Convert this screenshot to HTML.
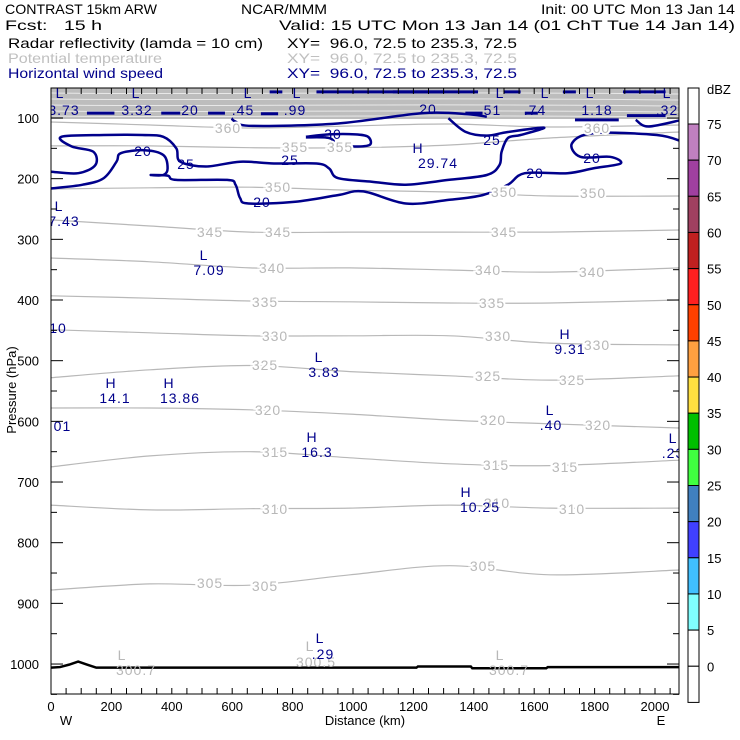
<!DOCTYPE html>
<html><head><meta charset="utf-8"><style>
body{margin:0;background:#fff}
svg{display:block;font-family:"Liberation Sans",sans-serif}
text{white-space:pre}
</style></head><body>
<svg id="c" width="740" height="740" viewBox="0 0 740 740">
<g font-size="14">
<text x="5" y="14" textLength="152" lengthAdjust="spacingAndGlyphs">CONTRAST 15km ARW</text>
<text x="241" y="14" textLength="86" lengthAdjust="spacingAndGlyphs">NCAR/MMM</text>
<text x="541" y="14" textLength="194" lengthAdjust="spacingAndGlyphs">Init: 00 UTC Mon 13 Jan 14</text>
<text x="5" y="30" textLength="97" lengthAdjust="spacingAndGlyphs">Fcst:   15 h</text>
<text x="279" y="30" textLength="456" lengthAdjust="spacingAndGlyphs">Valid: 15 UTC Mon 13 Jan 14 (01 ChT Tue 14 Jan 14)</text>
<text x="8" y="48" textLength="255" lengthAdjust="spacingAndGlyphs">Radar reflectivity (lamda = 10 cm)</text>
<text x="287" y="48" textLength="230" lengthAdjust="spacingAndGlyphs">XY=  96.0, 72.5 to 235.3, 72.5</text>
<text x="8" y="63" fill="#c0c0c0" textLength="154" lengthAdjust="spacingAndGlyphs">Potential temperature</text>
<text x="287" y="63" fill="#c0c0c0" textLength="230" lengthAdjust="spacingAndGlyphs">XY=  96.0, 72.5 to 235.3, 72.5</text>
<text x="8" y="78" fill="#00008b" textLength="155" lengthAdjust="spacingAndGlyphs">Horizontal wind speed</text>
<text x="287" y="78" fill="#00008b" textLength="230" lengthAdjust="spacingAndGlyphs">XY=  96.0, 72.5 to 235.3, 72.5</text>
</g>
<defs><clipPath id="pc"><rect x="51" y="88" width="628" height="606"/></clipPath></defs>
<g id="plot" clip-path="url(#pc)"></g>
<g id="axes"></g>
<g id="cbar"></g>
</svg>
<script>
const NS='http://www.w3.org/2000/svg';
// ---- data ----
const xTicks=[0,200,400,600,800,1000,1200,1400,1600,1800,2000];
const yTicks=[100,200,300,400,500,600,700,800,900,1000];
const thetaLevels=[360,355,350,345,340,335,330,325,320,315,310,305];
const thetaKm=[0,328,659,990,1321,1652,2080];
const th360=[106.6,111.5,116.5,113.2,109.9,114.8,111.5];
const th355=[146,146,149,149,144.5,133,123];
const th350=[217,215,214,219,222,228.5,228.5];
const th345=[268,278,288,288,288,288,284.6];
const th340=[330.7,337,347,347,350.5,354,347];
const th335=[393,397,401.6,403,405,405,400];
const th330=[449,454,459,459,459,471,474];
const th325=[528,515,508,518,525,532,525];
const th320=[578,578,581,588,598,604,611];
const th315=[675,657,650,660,670,673,664];
const th310=[738,746,744,743,738,743,743];
const th305=[878,868,870,853,838,853,845];
const thetaP=[th360,th355,th350,th345,th340,th335,th330,th325,th320,th315,th310,th305];
const w25Km=[1316,1372,1443,1513,1633,1555,1513,1492,1485,1443,1316,1175,1062,950,921,879,738,626,513,428,415,372,302,175,34,69,140,147,90,0];
const w25P=[100.5,122.6,129,123,116,128,133,155.5,177.5,194,202,210,205,199,183,175,175,172,180,172,150,131,128,128,131,147,155.5,177.5,191,188.5];
const w20Km=[0,105,175,217,231,309,372,386,372,330,386,415,583,611,626,654,809,950,1034,1175,1316,1429,1513,1569,1710,1795,1886,1851,1753,1725,1795,2006,2090];
const w20P=[216,210,199,172,158,153,161,183,194,194,195,202,202,210,232,241,238,227,221,241,235,227,210,191,191,183,175,164,164,142,125,128,139];
const w30Km=[844,921,1007,1050,1056,1007,950,921,844];
const w30P=[131,127,127,131,144,147,144,133,132];
const w20aKm=[598,611,668,950,1231,1387,1443];
const w20aP=[100.5,106,113,109,92,94,98];
const w20bKm=[1936,1978,2090];
const w20bP=[103,114,103];
const segKm1=[119,365,520,695,1372,1569,1907,724,879,1132,1499,1695,1894,1735];
const segKm2=[210,428,576,752,1429,1612,2035,766,1414,1301,1555,1738,2035,1880];
const segP=[92,92,92,93,92,92,96,57,57,57,57,57,57,103];
const groundKm=[0,30,60,90,120,150,1210,1215,1390,1395,1640,1645,2080];
const groundP=[1006,1005,1001,996,1001,1006,1006,1004,1004,1007,1007,1005,1005];
const dbzLevels=[75,70,65,60,55,50,45,40,35,30,25,20,15,10,5,0];
const dbzColors=['#c080c0','#a040a0','#a04060','#c02020','#ff2020','#ff4000','#ffa040','#ffe040','#00c000','#40ff40','#4080c0','#4040ff','#40c0ff','#80ffff','#ffffff','#ffffff'];
// ---- scales ----
const X=k=>51+k*0.302;
const Y=p=>118+(p-100)*0.6067;
const plot=document.getElementById('plot'),axes=document.getElementById('axes'),cbar=document.getElementById('cbar');
function mk(t,a,par){const e=document.createElementNS(NS,t);for(const k in a)e.setAttribute(k,a[k]);par.appendChild(e);return e;}
function smooth(xs,ys){const p=xs.map((x,i)=>[X(x),Y(ys[i])]);let d='M'+p[0][0].toFixed(1)+','+p[0][1].toFixed(1);
for(let i=0;i<p.length-1;i++){const p0=p[Math.max(0,i-1)],p1=p[i],p2=p[i+1],p3=p[Math.min(p.length-1,i+2)];
d+=' C'+(p1[0]+(p2[0]-p0[0])/6).toFixed(1)+','+(p1[1]+(p2[1]-p0[1])/6).toFixed(1)+' '+(p2[0]-(p3[0]-p1[0])/6).toFixed(1)+','+(p2[1]-(p3[1]-p1[1])/6).toFixed(1)+' '+p2[0].toFixed(1)+','+p2[1].toFixed(1);}return d;}
// gray dense band
let band=mk('rect',{x:51,y:88,width:628,height:Y(100)-88+1,fill:'#bdbdbd'},plot);


[93,99,105,111,116].forEach((y,i)=>{const l=mk('path',{d:`M51,${y} C200,${y+2} 400,${y-2} 679,${y+1}`,stroke:'#e8e8e8','stroke-width':1,fill:'none'},plot);

});
// theta contours
thetaLevels.forEach((lv,i)=>{const e=mk('path',{d:smooth(thetaKm,thetaP[i]),stroke:'#b8b8b8','stroke-width':1.2,fill:'none'},plot);

});
// wind contours
function wind(xs,ys,name,w){const e=mk('path',{d:smooth(xs,ys),stroke:'#00008b','stroke-width':w||2.5,fill:'none'},plot);

}
wind(w25Km,w25P,'wind-contour-25');
wind(w20Km,w20P,'wind-contour-20');
wind(w30Km,w30P,'wind-contour-30');
wind(w20aKm,w20aP,'wind-contour-20-upper');
wind(w20bKm,w20bP,'wind-contour-20-right');
segKm1.forEach((k,i)=>{const e=mk('line',{x1:X(k),x2:X(segKm2[i]),y1:Y(segP[i]),y2:Y(segP[i]),stroke:'#00008b','stroke-width':3},plot);

});
// ground
const g=mk('path',{d:'M'+groundKm.map((k,i)=>X(k)+','+Y(groundP[i])).join(' L'),stroke:'#000','stroke-width':2.5,fill:'none'},plot);


// labels
function lab(x,y,t,col,name,knock){const e=mk('text',{x:x,y:y,'text-anchor':'middle','dominant-baseline':'central','font-size':14,'letter-spacing':1,fill:col},plot);
if(knock){e.setAttribute('stroke','#fff');e.setAttribute('stroke-width',4);e.setAttribute('paint-order','stroke');}
e.textContent=t;

}
const tl=[[228,128,'360'],[597,128,'360'],[295,147,'355'],[340,147,'355'],[278,187,'350'],[504,192,'350'],[593,193,'350'],[210,232,'345'],[278,232,'345'],[504,232,'345'],[272,268,'340'],[488,270,'340'],[592,272,'340'],[265,302,'335'],[492,303,'335'],[275,336,'330'],[498,336,'330'],[597,345,'330'],[265,365,'325'],[488,376,'325'],[572,380,'325'],[268,410,'320'],[493,420,'320'],[598,425,'320'],[275,452,'315'],[496,465,'315'],[565,467,'315'],[275,509,'310'],[497,503,'310'],[572,509,'310'],[210,583,'305'],[265,586,'305'],[483,566,'305']];
tl.forEach(a=>lab(a[0],a[1],a[2],'#b8b8b8','theta-label',true));
const gl=[[122,655,'L'],[136,670,'300.7'],[310,646,'L'],[316,662,'300.5'],[500,655,'L'],[509,670,'300.7']];
gl.forEach(a=>lab(a[0],a[1],a[2],'#b8b8b8','theta-extremum-label',false));
const wl=[[143,151,'20'],[535,173,'20'],[592,158,'20'],[262,202,'20'],[186,164,'25'],[290,160,'25'],[492,140,'25'],[333,134,'30'],[190,110,'20'],[428,109,'20'],
[60,93,'L'],[136,93,'L'],[248,93,'L'],[297,93,'L'],[500,93,'L'],[545,93,'L'],[590,93,'L'],[667,93,'L'],
[64,110,'3.73'],[137,110,'3.32'],[243,110,'.45'],[295,110,'.99'],[490,110,'.51'],[535,110,'.74'],[597,110,'1.18'],[667,110,'.32'],
[59,206,'L'],[64,221,'7.43'],[204,255,'L'],[209,270,'7.09'],[58,328,'10'],[111,383,'H'],[115,398,'14.1'],[169,383,'H'],[180,398,'13.86'],
[319,357,'L'],[324,372,'3.83'],[565,334,'H'],[570,349,'9.31'],[60,426,'.01'],[550,410,'L'],[551,425,'.40'],[312,437,'H'],[317,452,'16.3'],
[673,438,'L'],[673,453,'.23'],[466,492,'H'],[480,507,'10.25'],[320,638,'L'],[323,654,'.29'],[418,148,'H'],[438,163,'29.74']];
wl.forEach(a=>lab(a[0],a[1],a[2],'#00008b','wind-label',false));
// axes
let fr=mk('rect',{x:51,y:88,width:628,height:606,fill:'none',stroke:'#000','stroke-width':1},axes);


for(let k=50;k<2080;k+=50){[[694,688],[88,94]].forEach(v=>{const t=mk('line',{x1:X(k),x2:X(k),y1:v[0],y2:v[1],stroke:'#000'},axes);

});}
for(let p=100;p<=1050;p+=50){const len=p%100?6:12;[[51,51+len],[679,679-len]].forEach(v=>{const t=mk('line',{x1:v[0],x2:v[1],y1:Y(p),y2:Y(p),stroke:'#000'},axes);

});}
xTicks.forEach(k=>{const t=mk('text',{x:X(k),y:711,'text-anchor':'middle','font-size':13},axes);t.textContent=k;

});
yTicks.forEach(p=>{const t=mk('text',{x:39,y:Y(p)+5,'text-anchor':'end','font-size':13},axes);t.textContent=p;

});
[[66,'W'],[661,'E']].forEach(a=>{const t=mk('text',{x:a[0],y:725,'text-anchor':'middle','font-size':13},axes);t.textContent=a[1];

});
let xt=mk('text',{x:365,y:725,'text-anchor':'middle','font-size':13},axes);xt.textContent='Distance (km)';


let yt=mk('text',{x:0,y:0,'text-anchor':'middle','font-size':13,transform:'translate(16,390) rotate(-90)'},axes);yt.textContent='Pressure (hPa)';


// colorbar
const cTop=124,cStep=36.15;
dbzLevels.forEach((v,i)=>{const r=mk('rect',{x:688,y:cTop+i*cStep,width:11,height:cStep,fill:dbzColors[i],stroke:'#000','stroke-width':1},cbar);


const t=mk('text',{x:707,y:cTop+i*cStep+5,'font-size':13},cbar);t.textContent=v;

});
let tb=mk('rect',{x:688,y:88,width:11,height:cTop-88,fill:'#fff',stroke:'#000'},cbar);


let bb=mk('rect',{x:688,y:cTop+16*cStep,width:11,height:694-(cTop+16*cStep),fill:'#fff',stroke:'#000'},cbar);


let du=mk('text',{x:707,y:94,'font-size':13},cbar);du.textContent='dBZ';


</script>
</body></html>
